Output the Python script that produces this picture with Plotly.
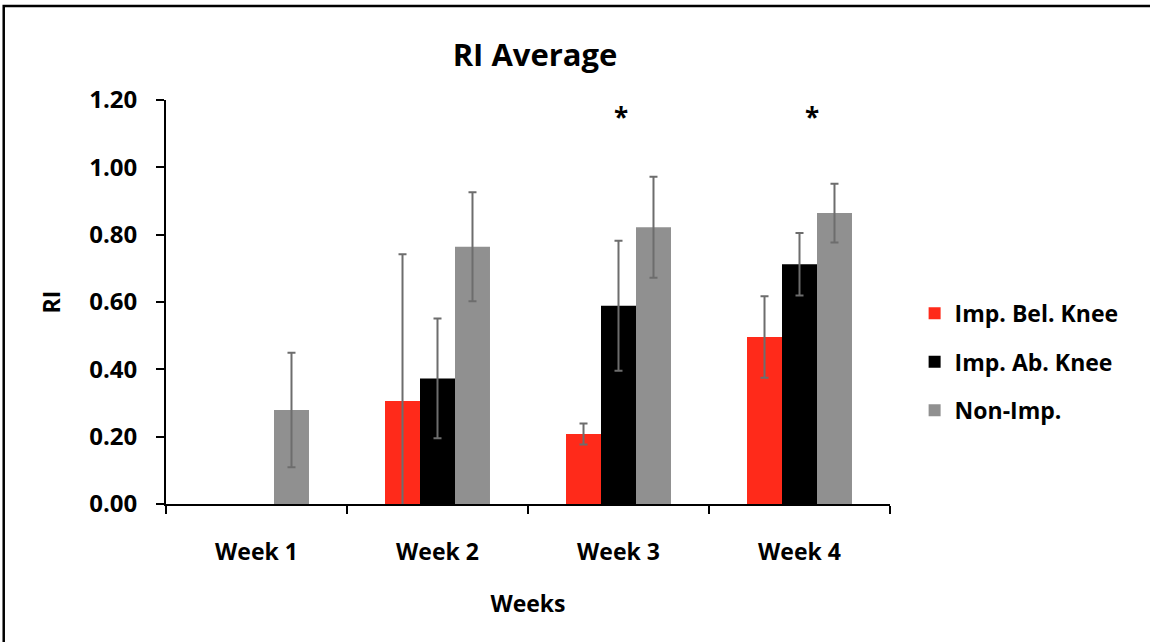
import plotly.graph_objects as go

weeks = ["Week 1", "Week 2", "Week 3", "Week 4"]
series_names = ["Imp. Bel. Knee", "Imp. Ab. Knee", "Non-Imp."]
bel_knee = [None, 0.306, 0.208, 0.496]
bel_knee_err = [None, 0.436, 0.031, 0.121]
ab_knee = [None, 0.373, 0.589, 0.712]
ab_knee_err = [None, 0.178, 0.193, 0.093]
non_imp = [0.279, 0.764, 0.822, 0.864]
non_imp_err = [0.170, 0.162, 0.150, 0.087]
colors = ["#FF2A1A", "#000000", "#909090"]
star_weeks = ["Week 3", "Week 4"]
star_y = [1.15, 1.15]
star_shift = [2, 12]
y_ticks = [0, 0.2, 0.4, 0.6, 0.8, 1.0, 1.2]

FONT = "Open Sans"
values = [bel_knee, ab_knee, non_imp]
errors = [bel_knee_err, ab_knee_err, non_imp_err]

fig = go.Figure()
for i, (name, vals, errs, col) in enumerate(zip(series_names, values, errors, colors)):
    fig.add_trace(go.Bar(
        x=weeks, y=vals, name=name, legendgroup=name,
        marker=dict(color=col, line=dict(width=0)),
        error_y=dict(type="data", array=errs, visible=True,
                     color="#6d6d6d", thickness=2, width=4),
    ))

for w, yy, sh in zip(star_weeks, star_y, star_shift):
    fig.add_annotation(x=w, y=yy, xref="x", yref="y", text="<b>*</b>",
                       showarrow=False, xshift=sh,
                       font=dict(family=FONT, size=26, color="black"))

# outer frame
fig.add_shape(type="rect", xref="paper", yref="paper",
              x0=(3 - 165.5) / 725, x1=(1160 - 165.5) / 725,
              y0=(504 - 660) / 404, y1=(504 - 6) / 404,
              line=dict(color="black", width=2.5), layer="below")

fig.update_layout(
    width=1150, height=642,
    margin=dict(l=165.5, r=259.5, t=100, b=138),
    paper_bgcolor="white", plot_bgcolor="white",
    barmode="group", bargap=0.42, bargroupgap=0,
    title=dict(text="<b>RI Average</b>", x=535 / 1150, xanchor="center",
               y=1 - 55 / 642, yanchor="middle",
               font=dict(family=FONT, size=31, color="black")),
    font=dict(family=FONT, color="black"),
    showlegend=True,
    legend=dict(x=1.034, y=0.525, xanchor="left", yanchor="top",
                traceorder="grouped", tracegroupgap=15.5,
                font=dict(family=FONT, size=23, color="black", weight="bold"),
                bgcolor="rgba(0,0,0,0)"),
    xaxis=dict(
        type="category", showline=True, linecolor="black", linewidth=2,
        ticks="outside", tickson="boundaries", ticklen=8, tickwidth=2,
        tickcolor="black", showgrid=False, zeroline=False,
        tickfont=dict(family=FONT, size=23, color="black", weight="bold"),
        ticklabelstandoff=26,
        title=dict(text="<b>Weeks</b>", standoff=30,
                   font=dict(family=FONT, size=23, color="black")),
    ),
    yaxis=dict(
        range=[0, 1.2], tickvals=y_ticks, tickformat=".2f",
        showline=True, linecolor="black", linewidth=2,
        ticks="outside", ticklen=8, tickwidth=2, tickcolor="black",
        showgrid=False, zeroline=False,
        tickfont=dict(family=FONT, size=24, color="black", weight="bold"),
        ticklabelstandoff=14,
        title=dict(text="<b>RI</b>", standoff=22,
                   font=dict(family=FONT, size=23, color="black")),
    ),
)

fig.write_html("out.html")
